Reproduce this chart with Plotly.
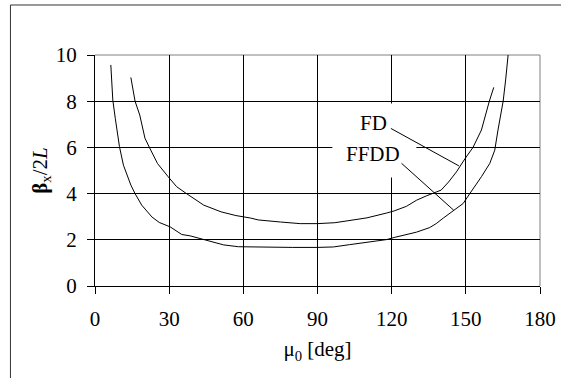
import plotly.graph_objects as go

# FD curve
fd_x = [14.5, 16.2, 18.1, 20.2, 22.0, 25.3, 29.6, 33.0, 37.0, 40.0, 44.0, 51.0, 57.0, 63.0,
        66.0, 75.0, 83.0, 90.0, 97.0, 102.0, 110.0, 118.0, 121.0, 126.0, 130.0, 134.0,
        137.5, 140.0, 143.0, 146.2, 149.6, 152.9, 156.3, 158.3, 159.5, 161.3]
fd_y = [9.03, 8.0, 7.4, 6.4, 6.0, 5.3, 4.73, 4.3, 4.0, 3.79, 3.5, 3.21, 3.05, 2.94,
        2.86, 2.77, 2.70, 2.70, 2.74, 2.82, 2.95, 3.16, 3.25, 3.45, 3.71, 3.9,
        4.03, 4.15, 4.5, 4.94, 5.5, 6.0, 6.75, 7.6, 8.0, 8.6]

# FFDD curve
ffdd_x = [6.4, 7.2, 8.2, 9.9, 11.5, 14.5, 16.2, 18.9, 23.0, 26.0, 30.4, 35.1, 38.5, 42.0,
          46.5, 52.0, 58.0, 63.0, 70.0, 80.0, 90.0, 96.4, 103.0, 110.0, 118.0, 121.0,
          125.0, 130.0, 135.4, 138.0, 141.0, 143.5, 145.5, 148.9, 151.6, 154.0, 156.3,
          159.7, 161.7, 163.0, 165.1, 166.1, 167.1, 168.0]
ffdd_y = [9.57, 8.05, 7.26, 6.03, 5.23, 4.37, 4.0, 3.5, 2.99, 2.75, 2.56, 2.23, 2.17, 2.07,
          1.91, 1.78, 1.70, 1.69, 1.67, 1.67, 1.67, 1.69, 1.79, 1.88, 2.01, 2.10,
          2.2, 2.33, 2.53, 2.7, 2.95, 3.14, 3.28, 3.57, 4.0, 4.35, 4.73,
          5.31, 5.88, 6.75, 8.0, 8.92, 10.0, 10.43]

x_ticks = [0, 30, 60, 90, 120, 150, 180]
y_ticks = [0, 2, 4, 6, 8, 10]
labels = ["FD", "FFDD"]

FONT = "Liberation Serif, Times New Roman, serif"
FS = 21

fig = go.Figure()
fig.add_trace(go.Scatter(x=fd_x, y=fd_y, mode="lines", name=labels[0],
                         line=dict(color="black", width=1), cliponaxis=False))
fig.add_trace(go.Scatter(x=ffdd_x, y=ffdd_y, mode="lines", name=labels[1],
                         line=dict(color="black", width=1), cliponaxis=False))

axis_common = dict(showgrid=True, gridcolor="black", gridwidth=1, showline=True,
                   linecolor="black", linewidth=1, ticks="outside", ticklen=7,
                   tickcolor="black", tickwidth=1, zeroline=False, automargin=False,
                   tickfont=dict(family=FONT, size=FS, color="black"))

fig.update_xaxes(range=[0, 180], tickvals=x_ticks, **axis_common, ticklabelstandoff=7,
                 title=dict(text="μ<sub>0</sub> [deg]",
                            font=dict(family=FONT, size=FS, color="black"), standoff=11))
fig.update_yaxes(range=[0, 10], tickvals=y_ticks, **axis_common, ticklabelstandoff=6,
                 title=dict(text="<b>β</b><sub>x</sub>/2<i>L</i>",
                            font=dict(family=FONT, size=FS, color="black"), standoff=2))

# label annotations
fig.add_annotation(x=112.8, y=7.04, text=labels[0], showarrow=False,
                   font=dict(family=FONT, size=FS, color="black"))
fig.add_annotation(x=112.6, y=5.71, text=labels[1], showarrow=False,
                   font=dict(family=FONT, size=FS, color="black"))

shapes = [
    # white box behind labels
    dict(type="rect", xref="x", yref="y", x0=96, x1=130, y0=4.7, y1=7.9,
         fillcolor="white", line=dict(width=0), layer="between"),
    # leader lines
    dict(type="line", xref="x", yref="y", x0=119.7, y0=6.82, x1=147.2, y1=5.20,
         line=dict(color="black", width=1), layer="above"),
    dict(type="line", xref="x", yref="y", x0=124.0, y0=5.31, x1=145.1, y1=3.28,
         line=dict(color="black", width=1), layer="above"),
    # plot-area top and right borders
    dict(type="line", xref="paper", yref="paper", x0=0, y0=1, x1=1, y1=1,
         line=dict(color="#808080", width=1), layer="below"),
    dict(type="line", xref="paper", yref="paper", x0=1, y0=0, x1=1, y1=1,
         line=dict(color="#808080", width=1), layer="below"),
    # outer frame (left and top)
    dict(type="line", xref="paper", yref="paper", x0=-0.19, y0=1.2165, x1=-0.19, y1=-0.42,
         line=dict(color="#333333", width=1)),
    dict(type="line", xref="paper", yref="paper", x0=-0.19, y0=1.2165, x1=1.06, y1=1.2165,
         line=dict(color="#333333", width=1)),
]

fig.update_layout(width=561, height=378, margin=dict(l=95, r=21, t=55, b=92),
                  paper_bgcolor="white", plot_bgcolor="white", showlegend=False,
                  shapes=shapes, font=dict(family=FONT, color="black"))

fig.write_html("out.html", config={"displayModeBar": False},
               post_script="document.body.style.margin='0';document.body.style.overflow='hidden';")
